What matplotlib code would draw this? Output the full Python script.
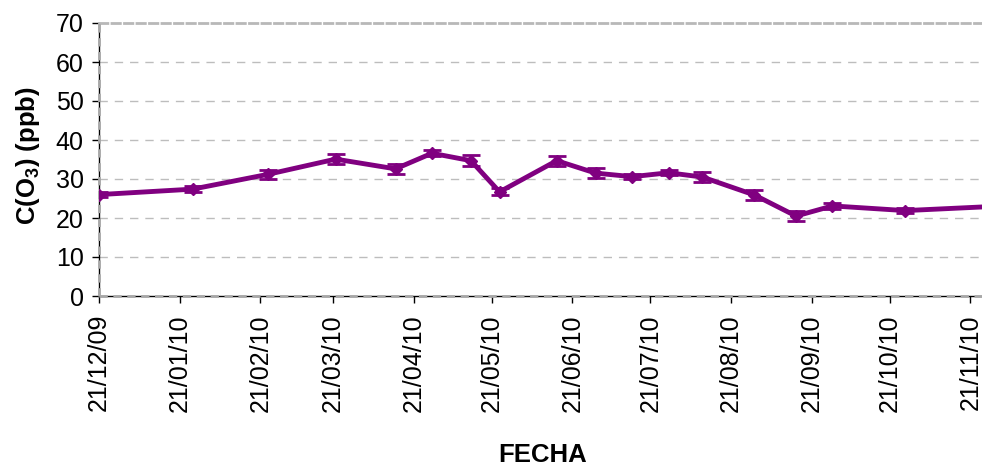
import matplotlib
matplotlib.use('Agg')
import matplotlib.pyplot as plt
import matplotlib.dates as mdates
import numpy as np
import pandas as pd

plt.rcParams['font.family'] = ['Liberation Sans', 'DejaVu Sans']
plt.rcParams['mathtext.fontset'] = 'custom'
plt.rcParams['mathtext.rm'] = 'Liberation Sans'
plt.rcParams['mathtext.bf'] = 'Liberation Sans:bold'

# fechas de muestreo y concentraciones de O3 (ppb)
fechas = pd.to_datetime([
    '2009-12-21', '2010-01-26', '2010-02-24', '2010-03-22', '2010-04-14',
    '2010-04-28', '2010-05-13', '2010-05-24', '2010-06-15', '2010-06-30',
    '2010-07-14', '2010-07-28', '2010-08-10', '2010-08-30', '2010-09-15',
    '2010-09-29', '2010-10-27', '2010-12-01',
])
o3 = [26.0, 27.4, 31.2, 35.1, 32.6, 36.6, 34.7, 26.7, 34.7, 31.5,
      30.6, 31.6, 30.5, 25.9, 20.5, 23.1, 21.9, 23.0]
err = [0.6, 0.7, 1.2, 1.3, 1.3, 0.8, 1.4, 0.9, 1.3, 1.2,
       0.6, 0.7, 1.3, 1.2, 1.3, 0.7, 0.6, 0.6]

ticks_x = pd.to_datetime([
    '2009-12-21', '2010-01-21', '2010-02-21', '2010-03-21', '2010-04-21',
    '2010-05-21', '2010-06-21', '2010-07-21', '2010-08-21', '2010-09-21',
    '2010-10-21', '2010-11-21',
])
ticks_y = np.arange(0, 71, 10)

fig = plt.figure(figsize=(9.82, 4.66), dpi=100)
ax = fig.add_axes([99 / 982, 170 / 466, 883 / 982, 273 / 466])

ax.errorbar(fechas, o3, yerr=err, color='#800080', lw=3.5, marker='D', ms=6.5,
            capsize=6.5, capthick=2, elinewidth=2, zorder=4)

ax.set_xlim(pd.Timestamp('2009-12-21'), pd.Timestamp('2010-11-25 12:00'))
ax.set_ylim(0, 70)
ax.set_yticks(ticks_y)
ax.set_xticks(ticks_x)
ax.xaxis.set_major_formatter(mdates.DateFormatter('%d/%m/%y'))

for v in ticks_y[1:-1]:
    ax.axhline(v, color='#bdbdbd', lw=1, ls=(0, (6, 5)), zorder=1)

ax.spines['right'].set_visible(False)
ax.spines['top'].set_color('#b8b8b8')
ax.spines['top'].set_linewidth(2)
ax.spines['top'].set_linestyle((0, (3, 1.5)))
for s in ['left', 'bottom']:
    ax.spines[s].set_color('black')
    ax.spines[s].set_linewidth(1)
# borde del area de trazado, discontinuo sobre los ejes
ax.axvline(ax.get_xlim()[0], color='#a8a8a8', lw=2, ls=(0, (3, 2)), zorder=3, clip_on=False)
ax.axhline(0, color='#a8a8a8', lw=2, ls=(0, (3, 2)), zorder=3, clip_on=False)

ax.tick_params(axis='both', direction='out', length=5, width=1, labelsize=18)
ax.tick_params(axis='y', pad=6)
ax.tick_params(axis='x', pad=8, labelrotation=90)

fig.text(28 / 982, 1 - 156 / 466, r'C(O$_\mathbf{3}$) (ppb)', rotation=90,
         ha='center', va='center', fontsize=18.5, fontweight='bold')
fig.text(543 / 982, 1 - 455 / 466, 'FECHA', ha='center', va='center',
         fontsize=18.5, fontweight='bold')

fig.savefig('out.png', dpi=100)
plt.close(fig)
